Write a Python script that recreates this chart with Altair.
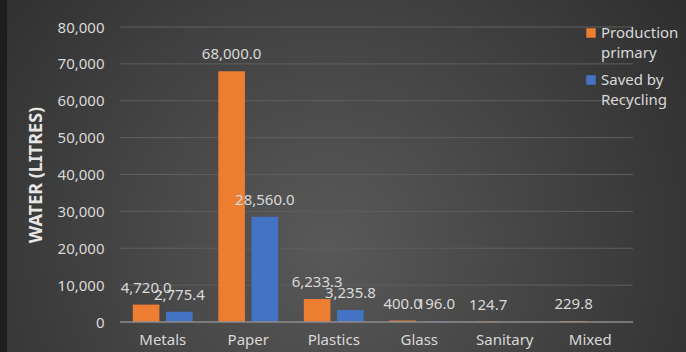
import altair as alt
import pandas as pd

categories = ["Metals", "Paper", "Plastics", "Glass", "Sanitary", "Mixed"]
series = ["Production primary", "Saved by Recycling"]
series_lines = [["Production", "primary"], ["Saved by", "Recycling"]]
production_primary = [4720.0, 68000.0, 6233.3, 400.0, 124.7, 229.8]
saved_by_recycling = [2775.4, 28560.0, 3235.8, 196.0, None, None]
colors = ["#ED7D31", "#4472C4"]
y_ticks = [0, 10000, 20000, 30000, 40000, 50000, 60000, 70000, 80000]

rows = []
for c, p, s in zip(categories, production_primary, saved_by_recycling):
    rows.append({"cat": c, "series": series[0], "value": p})
    if s is not None:
        rows.append({"cat": c, "series": series[1], "value": s})
df = pd.DataFrame(rows)

W, H = 513, 295
PL, PT, PR, PB = 120, 27, 53, 30
TXT = "#D9D9D9"
FONT = "Noto Sans"

bg = alt.Chart(alt.Data(values=[{}])).mark_rect(
    color=alt.Gradient(
        gradient="radial",
        stops=[alt.GradientStop(color="#595959", offset=0),
               alt.GradientStop(color="#262626", offset=1)],
        x1=0.48, y1=0.6, r1=0, x2=0.48, y2=0.6, r2=0.75,
    )
).encode(
    x=alt.value(-PL), x2=alt.value(W + PR),
    y=alt.value(-PT), y2=alt.value(H + PB),
)
edge = alt.Chart(alt.Data(values=[{}])).mark_rect(color="#1E1E1E").encode(
    x=alt.value(-PL), x2=alt.value(-PL + 7),
    y=alt.value(-PT), y2=alt.value(H + PB),
)

yscale = alt.Scale(domain=[0, 80000])
yaxis = alt.Axis(title="WATER (LITRES)", values=y_ticks, grid=False,
                 labelOverlap=False,
                 format=",.0f", labelFontSize=15, labelColor=TXT, labelFont=FONT,
                 labelPadding=16, ticks=False, domain=False, zindex=2,
                 titleFontSize=18, titleFontWeight="bold", titleColor="#E6E6E6",
                 titleFont=FONT, titlePadding=12)

grid = alt.Chart(pd.DataFrame({"value": y_ticks[1:]})).mark_rule(
    color="#5E5E5E", strokeWidth=1
).encode(y=alt.Y("value:Q", scale=yscale, axis=yaxis), x=alt.value(0), x2=alt.value(W))

base = alt.Chart(df).encode(
    x=alt.X("cat:N", sort=categories, scale=alt.Scale(paddingInner=0.3, paddingOuter=0.15),
            axis=alt.Axis(title=None, labelAngle=0, labelFontSize=15, labelColor=TXT,
                          labelFont=FONT, labelPadding=10, ticks=False, domain=False,
                          zindex=2)),
    xOffset=alt.XOffset("series:N", sort=series, scale=alt.Scale(paddingInner=0.2)),
    y=alt.Y("value:Q", scale=yscale, axis=yaxis),
)

bars = base.mark_bar().encode(
    color=alt.Color("series:N", sort=series,
                    scale=alt.Scale(domain=series, range=colors), legend=None),
)

labels = base.mark_text(baseline="bottom", dy=-9, fontSize=15, color=TXT, font=FONT).encode(
    text=alt.Text("value:Q", format=",.1f"),
)

zero = alt.Chart(pd.DataFrame({"value": y_ticks[:1]})).mark_rule(
    color="#8C8C8C", strokeWidth=1.5
).encode(
    y=alt.Y("value:Q", scale=yscale, axis=yaxis), x=alt.value(0), x2=alt.value(W)
)

legend_layers = []
for i, (lines, col) in enumerate(zip(series_lines, colors)):
    yy = 6 + i * 47
    legend_layers.append(
        alt.Chart(alt.Data(values=[{}])).mark_square(size=90, opacity=1, color=col).encode(
            x=alt.value(471), y=alt.value(yy))
    )
    legend_layers.append(
        alt.Chart(alt.Data(values=[{}])).mark_text(
            align="left", baseline="middle", fontSize=15, color=TXT, font=FONT,
            lineHeight=20, text=lines
        ).encode(x=alt.value(481), y=alt.value(yy))
    )

chart = alt.layer(bg, edge, grid, bars, zero, labels, *legend_layers).properties(
    width=W, height=H,
    autosize=alt.AutoSizeParams(type="none"),
    padding={"left": PL, "top": PT, "right": PR, "bottom": PB},
    background="#2B2B2B",
).configure_view(stroke=None)

chart.save("out.html", embed_options={"renderer": "svg", "actions": False})
